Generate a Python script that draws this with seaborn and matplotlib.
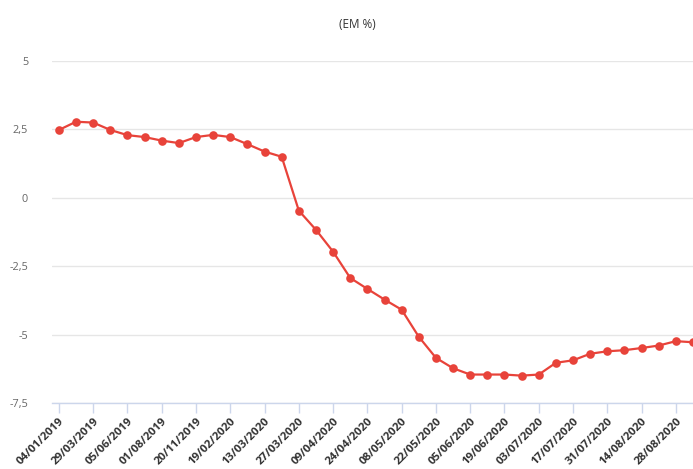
import matplotlib
matplotlib.use("Agg")
import matplotlib.pyplot as plt
import seaborn as sns
import pandas as pd
from matplotlib.ticker import FuncFormatter, FixedLocator

values = [2.48, 2.78, 2.75, 2.48, 2.29, 2.22, 2.09, 2.00, 2.22, 2.30,
          2.22, 1.96, 1.69, 1.50, -0.47, -1.17, -1.97, -2.93, -3.33, -3.72,
          -4.09, -5.08, -5.85, -6.23, -6.46, -6.46, -6.46, -6.50, -6.46, -6.03,
          -5.94, -5.70, -5.61, -5.57, -5.49, -5.40, -5.24, -5.28]
tick_labels = ["04/01/2019", "29/03/2019", "05/06/2019", "01/08/2019", "20/11/2019",
               "19/02/2020", "13/03/2020", "27/03/2020", "09/04/2020", "24/04/2020",
               "08/05/2020", "22/05/2020", "05/06/2020", "19/06/2020", "03/07/2020",
               "17/07/2020", "31/07/2020", "14/08/2020", "28/08/2020"]
y_ticks = [-7.5, -5, -2.5, 0, 2.5, 5]
title = "(EM %)"

df = pd.DataFrame({"idx": range(len(values)), "val": values})

sns.set_theme(style="white")
plt.rcParams['font.family'] = ['Open Sans', 'DejaVu Sans']

fig = plt.figure(figsize=(6.93, 4.69), dpi=100)
ax = fig.add_axes([51.7/693, 1 - 403/469, 1 - 51.7/693, (403 - 61)/469])

red = "#E8433A"
sns.lineplot(data=df, x="idx", y="val", ax=ax, color=red, linewidth=1.6,
             marker="o", markersize=6.2, markeredgewidth=0, markeredgecolor=red)

ax.set_ylim(-7.5, 5)
ax.set_xlim(-0.42, 37.0)
ax.yaxis.set_major_locator(FixedLocator(y_ticks))
ax.yaxis.set_major_formatter(FuncFormatter(
    lambda v, p: (f"{v:g}").replace(".", ",")))
ax.grid(axis="y", color="#e6e6e6", linewidth=1)
ax.grid(axis="x", visible=False)
ax.set_axisbelow(True)

tick_pos = list(range(0, len(values), 2))[:len(tick_labels)]
ax.set_xticks(tick_pos)
ax.set_xticklabels(tick_labels, rotation=45, ha="right", rotation_mode="anchor",
                   fontsize=8.2, fontweight="bold", color="#333333")
ax.tick_params(axis="x", length=7, width=1, color="#ccd6eb", pad=2, bottom=True)
ax.tick_params(axis="y", length=0, pad=17, labelsize=7.8, labelcolor="#666666")

for s in ["top", "right", "left"]:
    ax.spines[s].set_visible(False)
ax.spines["bottom"].set_color("#ccd6eb")
ax.spines["bottom"].set_linewidth(1)

ax.set_xlabel("")
ax.set_ylabel("")

fig.text(357/693, 1 - 24/469, title, ha="center", va="center",
         fontsize=8.5, color="#333333")

fig.savefig("out.png", dpi=100)
